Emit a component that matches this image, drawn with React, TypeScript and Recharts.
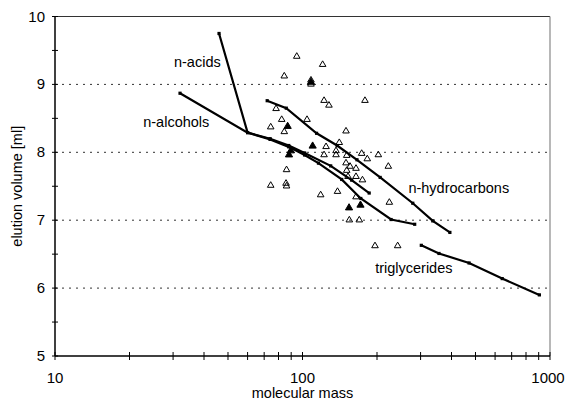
import React from 'react';
import { ScatterChart, Scatter, XAxis, YAxis, ReferenceLine, ReferenceDot } from 'recharts';

const FONT = '"Liberation Sans", Arial, Helvetica, sans-serif';

const xTicks = [10, 20, 30, 40, 50, 60, 70, 80, 90, 100, 200, 300, 400, 500, 600, 700, 800, 900, 1000];
const xLabelTicks = [10, 100, 1000];
const yTicks = [5, 5.5, 6, 6.5, 7, 7.5, 8, 8.5, 9, 9.5, 10];
const yLabelTicks = [5, 6, 7, 8, 9, 10];
const gridValues = [6, 7, 8, 9];

const acids = [
  { x: 46, y: 9.75 }, { x: 60, y: 8.29 }, { x: 74, y: 8.19 }, { x: 88, y: 8.08 },
  { x: 102, y: 7.96 }, { x: 116, y: 7.84 }, { x: 144, y: 7.6 }, { x: 172, y: 7.32 },
  { x: 228, y: 7.01 }, { x: 284, y: 6.94 },
];
const alcohols = [
  { x: 32, y: 8.87 }, { x: 60, y: 8.29 }, { x: 74, y: 8.2 }, { x: 88, y: 8.1 },
  { x: 102, y: 7.99 }, { x: 130, y: 7.8 }, { x: 158, y: 7.59 }, { x: 186, y: 7.4 },
];
const hydrocarbons = [
  { x: 72, y: 8.76 }, { x: 86, y: 8.65 }, { x: 114, y: 8.28 }, { x: 138, y: 8.1 },
  { x: 166, y: 7.89 }, { x: 206, y: 7.63 }, { x: 279, y: 7.25 }, { x: 336, y: 6.99 },
  { x: 394, y: 6.82 },
];
const triglycerides = [
  { x: 302, y: 6.63 }, { x: 356, y: 6.51 }, { x: 471, y: 6.37 }, { x: 641, y: 6.14 },
  { x: 906, y: 5.9 },
];

const otherCompounds = [
  { x: 94.8, y: 9.42 }, { x: 120.6, y: 9.3 }, { x: 84.4, y: 9.13 }, { x: 108.2, y: 9.07 },
  { x: 108.2, y: 9.01 }, { x: 122.2, y: 8.77 }, { x: 127.9, y: 8.7 }, { x: 178.8, y: 8.77 },
  { x: 78.2, y: 8.65 }, { x: 82.4, y: 8.49 }, { x: 74.4, y: 8.38 }, { x: 84.4, y: 8.31 },
  { x: 104.3, y: 8.49 }, { x: 149.9, y: 8.32 }, { x: 140.8, y: 8.15 }, { x: 124.5, y: 8.09 },
  { x: 136.6, y: 8.03 }, { x: 122.2, y: 7.97 }, { x: 136.6, y: 7.97 }, { x: 150.9, y: 7.96 },
  { x: 173.4, y: 7.99 }, { x: 182.7, y: 7.91 }, { x: 202.5, y: 7.97 }, { x: 149.9, y: 7.85 },
  { x: 155.6, y: 7.8 }, { x: 164.5, y: 7.77 }, { x: 222.2, y: 7.8 }, { x: 86.2, y: 7.75 },
  { x: 150.9, y: 7.74 }, { x: 152.7, y: 7.65 }, { x: 164.5, y: 7.65 }, { x: 174.7, y: 7.6 },
  { x: 74.4, y: 7.52 }, { x: 85.8, y: 7.55 }, { x: 86.2, y: 7.51 }, { x: 118.4, y: 7.38 },
  { x: 138.5, y: 7.43 }, { x: 164.5, y: 7.35 }, { x: 224.3, y: 7.27 }, { x: 154.6, y: 7.01 },
  { x: 169.6, y: 7.01 }, { x: 196.3, y: 6.63 }, { x: 242.4, y: 6.63 },
];
const overlappedCompounds = [
  { x: 108.2, y: 9.04 }, { x: 87.1, y: 8.39 }, { x: 109.9, y: 8.1 }, { x: 154.2, y: 7.19 },
  { x: 171.5, y: 7.23 }, { x: 88.2, y: 7.97 }, { x: 89.7, y: 8.03 },
];

const seriesLabels = [
  { x: 37.6, y: 9.33, text: 'n-acids' },
  { x: 30.9, y: 8.44, text: 'n-alcohols' },
  { x: 428, y: 7.47, text: 'n-hydrocarbons' },
  { x: 281.7, y: 6.29, text: 'triglycerides' },
];

const OpenTri = (p: any) => {
  const { cx, cy } = p;
  return (
    <path
      d={`M${cx},${cy - 3.2}L${cx + 3.3},${cy + 2.4}L${cx - 3.3},${cy + 2.4}Z`}
      fill="none"
      stroke="#000"
      strokeWidth={1}
    />
  );
};
const FilledTri = (p: any) => {
  const { cx, cy } = p;
  return (
    <path
      d={`M${cx},${cy - 3.6}L${cx + 3.6},${cy + 2.6}L${cx - 3.6},${cy + 2.6}Z`}
      fill="#000"
      stroke="#000"
      strokeWidth={1}
    />
  );
};
const Dot = (p: any) => {
  const { cx, cy } = p;
  return <rect x={cx - 1.6} y={cy - 1.6} width={3.2} height={3.2} fill="#000" />;
};

const XTick = (p: any) => {
  const { x, y, payload } = p;
  const isLast = payload.value === 1000;
  return (
    <g>
      <line x1={x} x2={x} y1={y - 4} y2={y + 4} stroke="#000" strokeWidth={1} />
      {xLabelTicks.includes(payload.value) && (
        <text
          x={isLast ? x - 2 : x}
          y={y + 27}
          textAnchor="middle"
          fontSize={15}
          fontFamily={FONT}
          fill="#000"
        >
          {payload.value}
        </text>
      )}
    </g>
  );
};

const YTick = (p: any) => {
  const { x, y, payload } = p;
  return (
    <g>
      <line x1={x - 3} x2={x + 3} y1={y} y2={y} stroke="#000" strokeWidth={1} />
      {yLabelTicks.includes(payload.value) && (
        <text x={x - 10} y={y + 5} textAnchor="end" fontSize={15} fontFamily={FONT} fill="#000">
          {payload.value}
        </text>
      )}
    </g>
  );
};

const TextShape = (text: string) => (p: any) => (
  <text x={p.cx} y={p.cy + 5} textAnchor="middle" fontSize={14.5} fontFamily={FONT} fill="#000">
    {text}
  </text>
);

export default function App() {
  return (
    <div style={{ width: 567, height: 401 }}>
      <style>{'html,body{margin:0;padding:0;overflow:hidden;}'}</style>
      <ScatterChart
        width={567}
        height={401}
        margin={{ top: 16.5, right: 17, bottom: 0, left: 8 }}
      >
        <XAxis
          dataKey="x"
          type="number"
          scale="log"
          domain={[10, 1000]}
          ticks={xTicks}
          interval={0}
          tickSize={0}
          tickMargin={0}
          tick={<XTick />}
          tickLine={false}
          axisLine={{ stroke: '#000', strokeWidth: 1.5 }}
          height={45}
          allowDataOverflow
          label={{
            content: (props: any) => {
              const vb = props.viewBox;
              return (
                <text x={vb.x + vb.width / 2} y={vb.y + 42} textAnchor="middle" fontSize={14.5} fontFamily={FONT} fill="#000">
                  molecular mass
                </text>
              );
            },
          }}
        />
        <YAxis
          dataKey="y"
          type="number"
          domain={[5, 10]}
          ticks={yTicks}
          interval={0}
          tickSize={0}
          tickMargin={0}
          tick={<YTick />}
          tickLine={false}
          axisLine={{ stroke: '#000', strokeWidth: 1.5 }}
          width={47}
          allowDataOverflow
          label={{
            content: (props: any) => {
              const vb = props.viewBox;
              const cx = vb.x + 9;
              const cy = vb.y + vb.height / 2;
              return (
                <text
                  x={cx}
                  y={cy}
                  transform={`rotate(-90 ${cx} ${cy})`}
                  textAnchor="middle"
                  dominantBaseline="central"
                  fontSize={14.5}
                  fontFamily={FONT}
                  fill="#000"
                >
                  elution volume [ml]
                </text>
              );
            },
          }}
        />
        {gridValues.map((v) => (
          <ReferenceLine key={v} y={v} stroke="#333" strokeDasharray="2 5" strokeWidth={1} />
        ))}
        <ReferenceLine y={10} stroke="#333" strokeWidth={1.2} />
        <ReferenceLine x={1000} stroke="#888" strokeWidth={1.2} />
        <Scatter data={otherCompounds} shape={<OpenTri />} isAnimationActive={false} />
        <Scatter data={overlappedCompounds} shape={<FilledTri />} isAnimationActive={false} />
        <Scatter data={acids} shape={<Dot />} line={{ stroke: '#000', strokeWidth: 2.2 }} isAnimationActive={false} />
        <Scatter data={alcohols} shape={<Dot />} line={{ stroke: '#000', strokeWidth: 2.2 }} isAnimationActive={false} />
        <Scatter data={hydrocarbons} shape={<Dot />} line={{ stroke: '#000', strokeWidth: 2.2 }} isAnimationActive={false} />
        <Scatter data={triglycerides} shape={<Dot />} line={{ stroke: '#000', strokeWidth: 2.2 }} isAnimationActive={false} />
        {seriesLabels.map((l) => (
          <ReferenceDot key={l.text} x={l.x} y={l.y} r={0} shape={TextShape(l.text)} />
        ))}
      </ScatterChart>
    </div>
  );
}
